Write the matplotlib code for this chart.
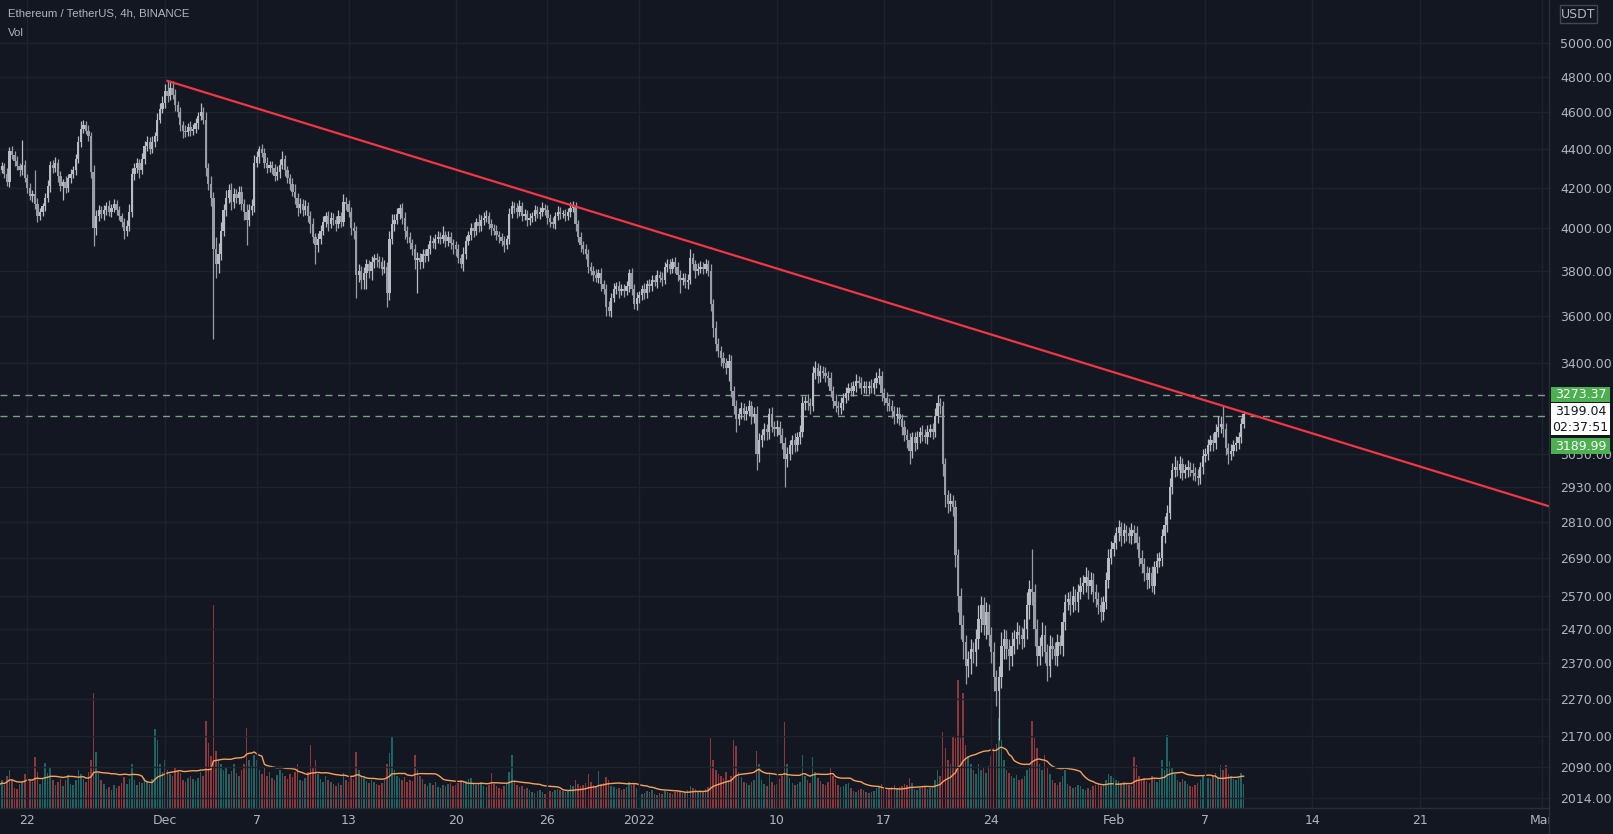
import numpy as np
import pandas as pd
import matplotlib
matplotlib.use("Agg")
import matplotlib.pyplot as plt
from matplotlib.patches import Rectangle
from matplotlib.lines import Line2D

# ETH/USDT 4h candles, Nov 20 2021 00:00 -> Feb 9 2022 12:00 (one row per day)
first_open = 4310
close = [
    4300, 4290, 4310, 4270, 4230, 4390,  # Nov 20
    4370, 4340, 4310, 4290, 4320, 4250,
    4200, 4160, 4170, 4120, 4060, 4080,
    4110, 4150, 4210, 4320, 4300, 4330,
    4260, 4210, 4230, 4200, 4250, 4270,
    4290, 4350, 4440, 4510, 4530, 4500,  # Nov 25
    4470, 4280, 4000, 4060, 4090, 4070,
    4090, 4110, 4080, 4100, 4120, 4090,
    4060, 4030, 3990, 4010, 4080, 4270,
    4300, 4330, 4290, 4350, 4420, 4440,
    4400, 4440, 4470, 4560, 4620, 4650,  # Nov 30
    4720, 4690, 4740, 4700, 4640, 4600,  # Dec 1
    4530, 4500, 4490, 4520, 4500, 4510,
    4540, 4580, 4600, 4560, 4300, 4220,
    4150, 3900, 3830, 3880, 3990, 4090,
    4150, 4190, 4130, 4170, 4150, 4180,  # Dec 5
    4120, 4080, 4040, 4090, 4110, 4330,
    4360, 4400, 4380, 4330, 4300, 4320,
    4300, 4260, 4280, 4320, 4350, 4290,
    4250, 4220, 4180, 4150, 4100, 4120,
    4090, 4110, 4060, 4020, 3960, 3920,  # Dec 10
    3950, 3990, 4030, 4060, 4020, 4050,
    4040, 4020, 4060, 4030, 4130, 4120,
    4080, 4000, 3990, 3780, 3800, 3760,
    3790, 3830, 3800, 3840, 3860, 3850,
    3840, 3810, 3820, 3700, 3950, 4020,  # Dec 15
    4040, 4070, 4100, 4050, 3990, 3960,
    3930, 3900, 3850, 3860, 3840, 3880,
    3870, 3900, 3940, 3930, 3950, 3960,
    3950, 3970, 3940, 3960, 3930, 3920,
    3900, 3860, 3830, 3880, 3940, 3970,  # Dec 20
    4000, 3990, 4030, 4010, 4040, 4050,
    4060, 4020, 4000, 3990, 3970, 3960,
    3940, 3920, 3950, 4070, 4110, 4100,
    4080, 4110, 4060, 4070, 4040, 4050,
    4060, 4090, 4070, 4080, 4100, 4090,  # Dec 25
    4050, 4030, 4020, 4060, 4080, 4070,
    4070, 4060, 4080, 4100, 4110, 4020,
    3960, 3920, 3900, 3880, 3820, 3800,
    3780, 3770, 3790, 3740, 3720, 3640,
    3620, 3680, 3720, 3730, 3710, 3720,  # Dec 30
    3710, 3730, 3790, 3720, 3650, 3680,
    3690, 3720, 3700, 3740, 3730, 3760,  # Jan 1
    3750, 3780, 3770, 3760, 3820, 3830,
    3810, 3840, 3820, 3780, 3760, 3770,
    3750, 3760, 3860, 3830, 3800, 3810,
    3820, 3810, 3830, 3800, 3650, 3550,  # Jan 5
    3480, 3450, 3420, 3400, 3380, 3410,
    3290, 3230, 3180, 3200, 3220, 3200,
    3210, 3230, 3190, 3200, 3050, 3100,
    3120, 3140, 3130, 3200, 3150, 3140,
    3150, 3120, 3090, 3030, 3050, 3080,  # Jan 10
    3100, 3080, 3110, 3130, 3240, 3250,
    3240, 3230, 3360, 3380, 3350, 3370,
    3360, 3350, 3340, 3290, 3250, 3230,
    3220, 3240, 3260, 3280, 3300, 3290,
    3310, 3330, 3320, 3300, 3310, 3300,  # Jan 15
    3310, 3300, 3320, 3340, 3350, 3280,
    3260, 3240, 3230, 3210, 3190, 3200,
    3180, 3150, 3120, 3100, 3060, 3110,
    3090, 3110, 3130, 3120, 3110, 3130,
    3140, 3130, 3190, 3240, 3230, 3010,  # Jan 20
    2900, 2870, 2880, 2860, 2700, 2570,
    2480, 2430, 2360, 2380, 2410, 2400,
    2440, 2500, 2540, 2480, 2520, 2450,
    2400, 2330, 2290, 2330, 2420, 2440,
    2410, 2390, 2420, 2440, 2460, 2450,  # Jan 25
    2440, 2470, 2540, 2590, 2580, 2470,
    2390, 2420, 2450, 2400, 2360, 2420,
    2410, 2390, 2430, 2420, 2490, 2550,
    2560, 2540, 2570, 2550, 2580, 2600,
    2610, 2630, 2600, 2620, 2580, 2560,  # Jan 30
    2540, 2520, 2550, 2620, 2690, 2720,
    2740, 2770, 2790, 2760, 2780, 2770,  # Feb 1
    2760, 2780, 2770, 2740, 2690, 2670,
    2640, 2620, 2640, 2600, 2660, 2680,
    2690, 2760, 2800, 2840, 2930, 2990,
    3000, 2990, 3010, 2980, 2990, 3000,  # Feb 5
    2990, 2980, 2970, 2960, 3000, 3040,
    3050, 3080, 3100, 3090, 3130, 3150,
    3160, 3140, 3070, 3050, 3060, 3080,
    3090, 3110, 3160, 3199.04,           # Feb 9
]

# wick above max(open, close) and below min(open, close), USDT
hi_wick = [
    20, 15, 25, 20, 30, 20,
    30, 20, 25, 20, 130, 25,
    20, 25, 20, 120, 30, 20,
    15, 25, 30, 20, 25, 30,
    20, 25, 15, 30, 20, 25,
    20, 25, 30, 40, 30, 25,
    30, 20, 40, 30, 25, 20,
    25, 20, 30, 20, 25, 20,
    20, 15, 20, 30, 40, 30,
    30, 25, 20, 30, 25, 30,
    25, 30, 20, 35, 30, 40,
    40, 58, 30, 35, 30, 25,
    30, 25, 30, 20, 30, 25,
    30, 25, 50, 30, 40, 30,
    40, 30, 60, 50, 40, 30,
    40, 30, 35, 30, 25, 30,
    30, 25, 40, 30, 35, 40,
    30, 20, 30, 25, 30, 20,
    20, 25, 30, 30, 40, 20,
    25, 20, 30, 40, 25, 30,
    25, 30, 20, 25, 30, 20,
    30, 25, 30, 20, 25, 30,
    25, 20, 30, 20, 40, 25,
    20, 25, 30, 20, 30, 25,
    30, 25, 20, 30, 20, 25,
    20, 25, 30, 20, 40, 50,
    30, 30, 20, 25, 30, 20,
    25, 20, 25, 30, 25, 20,
    20, 25, 30, 20, 25, 30,
    25, 40, 20, 30, 25, 20,
    20, 25, 20, 30, 25, 20,
    25, 30, 20, 40, 25, 30,
    30, 20, 25, 20, 25, 20,
    20, 25, 20, 30, 25, 20,
    25, 30, 20, 25, 20, 25,
    20, 25, 20, 25, 30, 20,
    25, 20, 25, 20, 30, 25,
    20, 25, 20, 30, 25, 20,
    20, 25, 20, 25, 20, 20,
    25, 30, 20, 25, 20, 20,
    25, 20, 25, 20, 25, 20,
    20, 25, 20, 25, 20, 25,
    20, 15, 25, 20, 25, 20,
    20, 25, 20, 25, 20, 25,
    25, 20, 25, 20, 25, 20,
    20, 25, 40, 25, 20, 25,
    25, 20, 25, 20, 30, 25,
    30, 25, 20, 25, 20, 30,
    25, 20, 25, 20, 25, 20,
    20, 25, 20, 25, 30, 25,
    20, 25, 20, 20, 25, 20,
    25, 20, 25, 20, 25, 20,
    20, 25, 20, 25, 30, 20,
    25, 20, 30, 30, 20, 25,
    20, 25, 20, 25, 20, 25,
    20, 25, 20, 25, 20, 25,
    20, 25, 20, 25, 20, 20,
    20, 25, 20, 25, 30, 20,
    20, 25, 20, 25, 20, 25,
    25, 20, 25, 20, 25, 20,
    20, 25, 20, 25, 20, 25,
    20, 25, 30, 33.37, 20, 20,
    25, 20, 30, 20, 25, 20,
    25, 30, 20, 25, 30, 20,
    30, 40, 30, 25, 30, 25,
    25, 30, 20, 30, 40, 30,
    25, 30, 40, 25, 30, 20,
    25, 30, 40, 30, 130, 25,
    30, 25, 40, 30, 25, 30,
    25, 20, 25, 20, 30, 25,
    20, 25, 30, 20, 25, 30,
    25, 30, 20, 25, 20, 25,
    20, 25, 20, 25, 30, 25,
    25, 20, 25, 20, 25, 20,
    20, 25, 20, 25, 20, 25,
    20, 25, 20, 25, 20, 25,
    20, 25, 30, 25, 30, 25,
    40, 25, 30, 25, 20, 25,
    20, 25, 20, 25, 20, 25,
    20, 25, 20, 25, 30, 40,
    30, 70, 25, 20, 25, 20,
    25, 20, 25, 10,
]

lo_wick = [
    20, 25, 15, 20, 20, 25,
    20, 25, 20, 30, 25, 20,
    25, 20, 30, 25, 30, 20,
    20, 25, 20, 30, 25, 20,
    30, 25, 70, 25, 20, 25,
    20, 25, 20, 30, 25, 20,
    25, 30, 85, 30, 25, 20,
    30, 25, 20, 25, 20, 25,
    20, 25, 40, 25, 20, 25,
    30, 25, 40, 20, 25, 30,
    25, 20, 30, 25, 20, 25,
    25, 30, 20, 25, 30, 25,
    30, 40, 25, 20, 30, 25,
    25, 30, 20, 25, 40, 30,
    40, 400, 60, 40, 30, 25,
    30, 25, 40, 30, 25, 30,
    30, 40, 120, 30, 25, 30,
    25, 30, 20, 30, 25, 20,
    30, 25, 20, 30, 25, 30,
    25, 30, 20, 30, 40, 25,
    30, 25, 30, 40, 30, 90,
    30, 25, 20, 25, 30, 20,
    25, 30, 20, 25, 20, 30,
    25, 30, 40, 100, 30, 40,
    40, 70, 30, 40, 25, 30,
    25, 30, 20, 60, 30, 25,
    30, 20, 25, 30, 40, 30,
    30, 25, 40, 150, 30, 25,
    30, 25, 20, 25, 30, 20,
    25, 20, 30, 25, 30, 40,
    30, 25, 15, 30, 25, 20,
    25, 30, 20, 25, 20, 25,
    20, 25, 30, 20, 25, 30,
    25, 30, 20, 25, 20, 25,
    30, 20, 25, 20, 30, 25,
    20, 25, 20, 25, 20, 25,
    30, 25, 20, 25, 20, 25,
    20, 25, 20, 25, 20, 30,
    25, 30, 20, 25, 30, 20,
    25, 20, 25, 30, 25, 40,
    20, 25, 20, 25, 30, 20,
    25, 20, 25, 30, 20, 25,
    25, 20, 25, 20, 25, 20,
    20, 25, 20, 30, 20, 25,
    25, 20, 30, 25, 60, 25,
    25, 30, 20, 25, 30, 20,
    20, 25, 20, 25, 30, 40,
    30, 25, 30, 20, 25, 50,
    25, 30, 50, 25, 20, 25,
    25, 20, 30, 25, 60, 30,
    25, 20, 30, 25, 20, 25,
    25, 30, 25, 100, 30, 25,
    30, 25, 20, 25, 20, 25,
    25, 30, 20, 25, 30, 25,
    20, 25, 30, 25, 30, 25,
    25, 20, 25, 20, 25, 20,
    20, 25, 20, 25, 20, 25,
    25, 20, 25, 20, 25, 30,
    25, 30, 20, 25, 30, 25,
    25, 30, 25, 30, 50, 25,
    30, 25, 20, 25, 20, 25,
    20, 25, 20, 25, 30, 40,
    40, 30, 25, 30, 40, 50,
    40, 50, 50, 30, 40, 30,
    40, 30, 40, 30, 40, 30,
    30, 40, 40, 131, 30, 40,
    30, 40, 30, 25, 30, 25,
    30, 25, 30, 40, 40, 50,
    30, 25, 30, 30, 40, 30,
    30, 25, 30, 25, 30, 25,
    25, 30, 20, 25, 30, 20,
    25, 30, 40, 25, 30, 25,
    25, 30, 25, 20, 25, 20,
    25, 20, 25, 30, 20, 25,
    20, 25, 30, 20, 25, 30,
    25, 30, 25, 20, 25, 20,
    20, 25, 20, 25, 20, 25,
    25, 20, 30, 25, 20, 25,
    20, 25, 20, 25, 20, 25,
    20, 25, 20, 30, 25, 20,
    25, 30, 25, 40, 25, 20,
    20, 25, 20, 15,
]

# volume per candle, thousand ETH
volume = [
    62, 55, 70, 58, 80, 95,
    72, 50, 48, 60, 66, 85,
    112, 70, 65, 128, 90, 60,
    75, 112, 88, 100, 70, 58,
    64, 72, 55, 70, 82, 60,
    58, 70, 95, 85, 72, 64,
    90, 120, 288, 140, 88, 70,
    60, 48, 52, 45, 58, 50,
    55, 62, 78, 60, 72, 110,
    70, 58, 66, 62, 75, 68,
    60, 72, 198, 170, 110, 90,
    120, 95, 85, 80, 100, 92,
    88, 70, 65, 75, 80, 72,
    68, 75, 90, 80, 218, 162,
    130, 508, 142, 120, 110, 95,
    100, 85, 92, 110, 88, 80,
    95, 110, 200, 120, 105, 132,
    120, 95, 85, 100, 80, 90,
    75, 70, 82, 95, 88, 80,
    72, 85, 78, 90, 110, 70,
    68, 75, 90, 158, 100, 120,
    85, 72, 66, 80, 70, 65,
    60, 55, 62, 58, 88, 70,
    65, 78, 72, 140, 95, 80,
    75, 68, 62, 70, 65, 60,
    58, 62, 70, 110, 138, 178,
    95, 80, 75, 70, 78, 65,
    70, 68, 132, 95, 80, 72,
    60, 55, 62, 58, 66, 52,
    50, 58, 55, 60, 62, 56,
    58, 62, 70, 65, 68, 72,
    75, 60, 58, 62, 66, 55,
    52, 58, 88, 60, 55, 50,
    48, 55, 60, 90, 132, 70,
    58, 52, 55, 48, 50, 45,
    40, 38, 42, 45, 40, 36,
    38, 42, 40, 45, 48, 44,
    42, 40, 45, 58, 55, 70,
    60, 55, 58, 62, 85, 65,
    58, 55, 92, 60, 62, 78,
    70, 55, 52, 48, 50, 45,
    48, 52, 65, 58, 62, 50,
    40, 35, 38, 42, 40, 45,
    35, 32, 38, 36, 42, 40,
    38, 36, 40, 45, 42, 38,
    40, 45, 55, 50, 48, 42,
    44, 40, 48, 52, 175, 120,
    95, 85, 80, 75, 90, 70,
    80, 170, 155, 90, 78, 65,
    62, 58, 66, 70, 142, 110,
    70, 60, 55, 85, 65, 58,
    60, 72, 80, 215, 110, 75,
    62, 58, 60, 65, 132, 80,
    70, 62, 128, 90, 75, 68,
    60, 58, 65, 102, 80, 72,
    58, 52, 55, 60, 62, 50,
    42, 40, 45, 48, 44, 40,
    38, 40, 42, 50, 55, 60,
    50, 45, 48, 52, 58, 50,
    52, 55, 60, 58, 75, 62,
    48, 45, 50, 55, 52, 48,
    50, 55, 70, 95, 80, 190,
    150, 120, 110, 178, 175, 320,
    175, 288, 158, 130, 110, 95,
    85, 110, 95, 100, 88, 105,
    130, 150, 160, 225, 170, 120,
    95, 88, 80, 75, 82, 70,
    72, 80, 95, 100, 218, 175,
    150, 110, 95, 132, 100, 85,
    70, 62, 58, 65, 80, 95,
    60, 55, 50, 52, 58, 55,
    48, 45, 50, 46, 55, 58,
    60, 55, 58, 70, 85, 80,
    75, 70, 68, 62, 65, 60,
    58, 55, 128, 108, 80, 70,
    75, 68, 62, 80, 72, 65,
    70, 120, 95, 182, 118, 100,
    85, 70, 65, 72, 68, 60,
    55, 52, 58, 62, 70, 80,
    85, 75, 72, 80, 88, 78,
    108, 95, 108, 85, 80, 72,
    70, 75, 88, 60,
]

start_day = -11  # Nov 20 00:00, days counted from Dec 1 00:00

price_ticks = [2014, 2090, 2170, 2270, 2370, 2470, 2570, 2690, 2810, 2930,
               3050, 3400, 3600, 3800, 4000, 4200, 4400, 4600, 4800, 5000]
date_ticks = [-9, 0, 6, 12, 19, 25, 31, 40, 47, 54, 62, 68, 75, 82, 90]
date_labels = ["22", "Dec", "7", "13", "20", "26", "2022", "10", "17", "24",
               "Feb", "7", "14", "21", "Mar"]

trend_days = [1 / 6, 90.6]
trend_prices = [4778, 2860]
level_lines = [3273.37, 3189.99]
last_price = 3199.04

# ---------------------------------------------------------------
assert len(close) == len(hi_wick) == len(lo_wick) == len(volume)

BG = "#131722"
GRID = "#1e222d"
TXT = "#b2b5be"
W, H = 1613, 834

c = np.array(close, dtype=float)
o = np.r_[first_open, c[:-1]]
hi = np.maximum(o, c) + np.array(hi_wick)
lo = np.minimum(o, c) - np.array(lo_wick)
t = start_day + np.arange(len(c)) / 6
up = c >= o

fig = plt.figure(figsize=(W / 100, H / 100), dpi=100, facecolor=BG)
rect = [0, 26 / H, 1549 / W, 808 / H]

# volume pane underneath
axv = fig.add_axes(rect, facecolor=BG)
vcol = np.where(up, "#26a69a", "#ef5350")
axv.bar(t, volume, width=0.1, color=vcol, alpha=0.55, linewidth=0)
vma = pd.Series(volume, dtype=float).rolling(20, min_periods=1).mean()
axv.plot(t, vma, color="#f6a25d", lw=1.0)
axv.set_ylim(0, 2020)
axv.set_xlim(-10.784, 90.46)
axv.set_xticks([])
axv.set_yticks([])
for s in axv.spines.values():
    s.set_visible(False)

# price pane on top
ax = fig.add_axes(rect)
ax.patch.set_alpha(0)
ax.set_yscale("log")
ax.set_xlim(-10.784, 90.46)
ax.set_ylim(1990, 5267)

ccol = np.where(up, "#b8bbc1", "#999da6")
ax.vlines(t, lo, hi, colors=ccol, lw=0.9, zorder=3)
body = np.maximum(np.abs(c - o), 4)
ax.bar(t, body, bottom=np.minimum(o, c), width=0.15, color=ccol, linewidth=0, zorder=3)

for lv in level_lines:
    ax.axhline(lv, color="#9fcfa8", lw=1, dashes=(5, 4), alpha=0.75, zorder=2)
ax.plot(trend_days, trend_prices, color="#f23645", lw=1.6, zorder=4)

ax.yaxis.tick_right()
ax.set_yticks(price_ticks)
ax.set_yticklabels([f"{v:.2f}" for v in price_ticks])
ax.yaxis.set_minor_locator(matplotlib.ticker.NullLocator())
ax.set_xticks(date_ticks)
ax.set_xticklabels(date_labels)
ax.tick_params(axis="y", length=0, pad=8, labelsize=9, labelcolor=TXT)
ax.tick_params(axis="x", length=0, pad=4, labelsize=9, labelcolor=TXT)
ax.grid(True, color=GRID, lw=1, zorder=0)
for s in ax.spines.values():
    s.set_visible(False)

# hide the part of the date axis under the price scale
fig.add_artist(Rectangle((1549 / W, 0), 1 - 1549 / W, 26 / H, transform=fig.transFigure,
                         facecolor=BG, edgecolor="none", zorder=3))
fig.add_artist(Line2D([1549 / W, 1549 / W], [0, 1], transform=fig.transFigure,
                      color="#2a2e39", lw=1, zorder=4))
fig.add_artist(Line2D([0, 1549 / W], [26 / H, 26 / H], transform=fig.transFigure,
                      color="#2a2e39", lw=1, zorder=4))


def label_box(x0, y0, w, h, fc, lines, tc, ec="none"):
    fig.add_artist(Rectangle((x0 / W, 1 - (y0 + h) / H), w / W, h / H,
                             transform=fig.transFigure, facecolor=fc, edgecolor=ec,
                             lw=1, zorder=5))
    step = h / len(lines)
    for k, s in enumerate(lines):
        fig.text((x0 + w / 2) / W, 1 - (y0 + step * (k + 0.5)) / H, s, color=tc,
                 fontsize=9, ha="center", va="center", zorder=6)


label_box(1551, 387, 59, 15, "#4caf50", [f"{level_lines[0]:.2f}"], "white")
label_box(1551, 403, 59, 32, "white", [f"{last_price:.2f}", "02:37:51"], BG)
label_box(1551, 438, 59, 16, "#4caf50", [f"{level_lines[1]:.2f}"], "white")
label_box(1560, 5, 37, 18, BG, ["USDT"], TXT, ec="#434651")

fig.text(8 / W, 1 - 14 / H, "Ethereum / TetherUS, 4h, BINANCE", color=TXT,
         fontsize=8.2, va="center", ha="left", family="Liberation Sans")
fig.text(8 / W, 1 - 33 / H, "Vol", color=TXT, fontsize=8.2, va="center", ha="left",
         family="Liberation Sans")

fig.savefig("out.png", dpi=100, facecolor=BG)
